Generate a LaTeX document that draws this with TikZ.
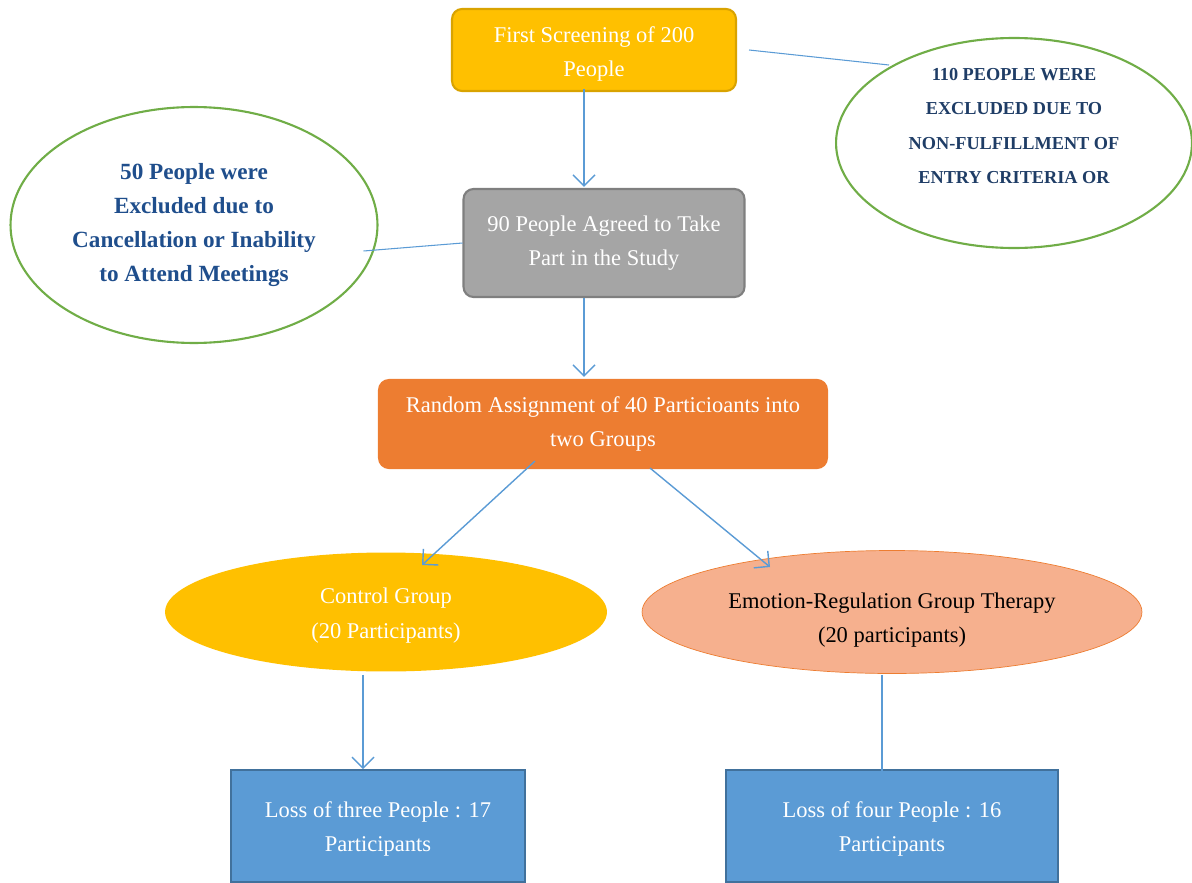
\documentclass[tikz,border=0pt]{standalone}
\usepackage{fontspec}
\setmainfont{Liberation Serif}
\usepackage{tikz}
\usetikzlibrary{shapes.geometric, arrows.meta, positioning, calc}

\definecolor{boxyellow}{HTML}{FFC000}
\definecolor{boxgold}{HTML}{D9A300}
\definecolor{boxgray}{HTML}{A5A5A5}
\definecolor{boxgrayline}{HTML}{7F7F7F}
\definecolor{boxorange}{HTML}{ED7D31}
\definecolor{boxsalmon}{HTML}{F6B08E}
\definecolor{boxblue}{HTML}{5B9BD5}
\definecolor{boxblueline}{HTML}{41719C}
\definecolor{ringgreen}{HTML}{70AD47}
\definecolor{textblue}{HTML}{1F4E8C}
\definecolor{capsblue}{HTML}{1F3D66}

\begin{document}
\begin{tikzpicture}[x=0.02cm, y=-0.02cm,
      stepbox/.style={draw, rounded corners=0.2cm, line width=1.2pt,
      align=center, text=white, inner sep=0pt,
      font=\fontsize{12.8pt}{19.4pt}\selectfont},
      ring/.style={ellipse, draw=ringgreen, line width=1.2pt, inner sep=0pt,
      align=center, font=\bfseries\fontsize{13.2pt}{19.4pt}\selectfont},
      group/.style={ellipse, inner sep=0pt, align=center,
      font=\fontsize{12.8pt}{19.4pt}\selectfont},
      lossbox/.style={draw=boxblueline, fill=boxblue, line width=1pt,
      align=center, text=white, inner sep=0pt,
      font=\fontsize{12.8pt}{19.4pt}\selectfont},
      arrow/.style={draw=boxblue, line width=0.8pt, -{Straight Barb[length=2.2mm,
      width=4.4mm]}}, link/.style={draw=boxblue, line width=0.6pt} ]

    \useasboundingbox (0,0) rectangle (1192,882);
    \clip (0,0) rectangle (1192,882);

    % Screening boxes
    \node[stepbox, draw=boxgold, fill=boxyellow, minimum width=5.68cm,
    minimum height=1.64cm] (first) at (594,50) {\rule{0pt}{14pt}First Screening
    of 200\\People};
    \node[stepbox, draw=boxgrayline, fill=boxgray, minimum width=5.62cm,
    minimum height=2.16cm] (agreed) at (604,243) {90 People Agreed to Take\\Part
    in the Study};
    \node[stepbox, draw=boxorange, fill=boxorange, minimum width=8.96cm,
    minimum height=1.76cm] (assign) at (603,424) {Random Assignment of 40
    Particioants into\\two Groups};

    % Exclusion ellipses
    \node[ring, text=capsblue, font=\bfseries\fontsize{10.4pt}{19.4pt}\selectfont,
    minimum width=7.12cm, minimum height=4.14cm] (excl110) at (1014,143) {110
    PEOPLE WERE\\EXCLUDED DUE TO\\NON-FULFILLMENT OF\\ENTRY CRITERIA OR\\
    \mbox{}};
    \node[ring, text=textblue, minimum width=7.34cm, minimum height=4.72cm]
    (excl50) at (194,225) {50 People were\\Excluded due to\\Cancellation or
    Inability\\to Attend Meetings};

    % Groups
    \node[group, fill=boxyellow, text=white, minimum width=8.84cm, minimum
    height=2.38cm] (control) at (386,612) {\rule{0pt}{13pt}Control
    Group\\(20 Participants)};
    \node[group, draw=boxorange, fill=boxsalmon, text=black, minimum
    width=10cm, minimum height=2.46cm] (therapy) at (892,612)
    {\rule{0pt}{18pt}Emotion-Regulation Group Therapy\\(20 participants)};

    % Losses
    \node[lossbox, minimum width=5.88cm, minimum height=2.24cm] (loss3) at
    (378,826) {\rule{0pt}{12pt}Loss of three People : 17\\Participants};
    \node[lossbox, minimum width=6.64cm, minimum height=2.24cm] (loss4) at
    (892,826) {\rule{0pt}{12pt}Loss of four People : 16\\Participants};

    % Links to exclusions
    \draw[link] ([shift={(12,0)}]first.east) -- ([shift={(54,-78)}]excl110.west);
    \draw[link] ([shift={(-15,26)}]excl50.east) -- (agreed.west);

    % Flow arrows
    \draw[arrow] ([shift={(-10,-3)}]first.south) -- ([shift={(-20,-1)}]agreed.north);
    \draw[arrow] ([shift={(-20,0)}]agreed.south) -- ([shift={(-19,-2)}]assign.north);
    \draw[arrow] ([shift={(-68,-8)}]assign.south) -- ([shift={(36,-47)}]control.center);
    \draw[arrow] ([shift={(47,-1)}]assign.south) -- ([shift={(-122,-45)}]therapy.center);
    \draw[arrow] ([shift={(-23,3)}]control.south) -- ([shift={(-15,0)}]loss3.north);
    \draw[link] ([shift={(-10,1)}]therapy.south) -- ([shift={(-10,2)}]loss4.north);

    \end{tikzpicture}
\end{document}
